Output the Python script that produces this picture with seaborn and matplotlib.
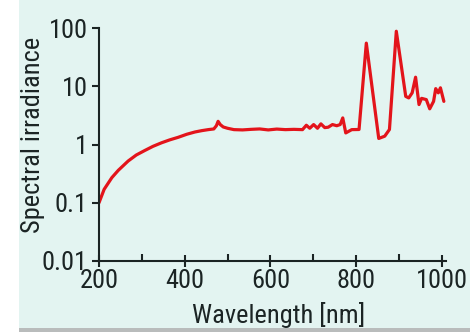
import matplotlib
matplotlib.use("Agg")
import matplotlib.pyplot as plt
import matplotlib.patches as mpatches
from matplotlib import font_manager
import numpy as np
import pandas as pd
import seaborn as sns

# values
wavelength = [200, 212, 230, 245, 268, 287, 307, 326, 346, 365, 385, 405, 424,
              440, 455, 468, 474, 478, 483, 490, 500, 515, 535, 555, 575, 595,
              615, 635, 655, 675, 684, 692, 701, 710, 718, 727, 735, 745, 755,
              763, 769, 776, 790, 807, 824, 853, 867, 878, 894, 916, 923, 931,
              939, 947, 953, 964, 972, 981, 986, 992, 997, 1005]
irradiance = [0.1, 0.17, 0.27, 0.36, 0.52, 0.66, 0.79, 0.93, 1.07, 1.2, 1.33, 1.5, 1.64,
              1.73, 1.8, 1.85, 2.1, 2.5, 2.2, 2.0, 1.9, 1.8, 1.78, 1.82, 1.85, 1.78,
              1.84, 1.8, 1.82, 1.8, 2.14, 1.9, 2.2, 1.9, 2.26, 1.95, 1.98, 2.2, 2.1,
              2.2, 2.86, 1.58, 1.8, 1.81, 55, 1.27, 1.39, 1.81, 88, 6.7, 6.3, 7.7,
              14.3, 4.85, 6.2, 5.9, 4.1, 5.5, 9.1, 7.7, 9.4, 5.5]
x_ticks = [200, 400, 600, 800, 1000]
y_ticks = [0.01, 0.1, 1, 10, 100]
y_ticklabels = ["0.01", "0.1", "1", "10", "100"]

df = pd.DataFrame({"wl": wavelength, "irr": irradiance})

sns.set_style("ticks")

# narrow font if there is one, else condensed DejaVu
names = {f.name for f in font_manager.fontManager.ttflist}
narrow = [n for n in ['Liberation Sans Narrow', 'Roboto Condensed', 'Open Sans Condensed',
                      'DejaVu Sans Condensed'] if n in names]
plt.rcParams['font.family'] = narrow + ['DejaVu Sans']
plt.rcParams['font.stretch'] = 'condensed'
fsize = 19 if narrow else 14

bg = '#e3f4f1'
ink = '#1b2424'

fig = plt.figure(figsize=(4.7, 3.32), dpi=100, facecolor='white')
# mint page background, white strip on the left, grey line at the bottom
fig.patches.append(mpatches.Rectangle((19 / 470, 4 / 332), 1, 1, transform=fig.transFigure,
                                      facecolor=bg, edgecolor='none', zorder=-2))
fig.patches.append(mpatches.Rectangle((19 / 470, 0), 1, 4 / 332, transform=fig.transFigure,
                                      facecolor='#b9bcbc', edgecolor='none', zorder=-2))

ax = fig.add_axes([99 / 470, 1 - 261 / 332, (446 - 99) / 470, (261 - 28) / 332])
ax.set_facecolor('none')

sns.lineplot(data=df, x="wl", y="irr", ax=ax, color='#e3141b', linewidth=2.3)

ax.set_yscale('log')
ax.set_xlim(200, 1010)
ax.set_ylim(0.01, 100)

ax.set_xticks(x_ticks)
ax.set_xticklabels([str(t) for t in x_ticks])
ax.set_xticks([300, 500, 700, 900], minor=True)
ax.set_yticks(y_ticks)
ax.set_yticklabels(y_ticklabels)
ax.yaxis.set_minor_locator(matplotlib.ticker.NullLocator())

ax.tick_params(axis='x', which='major', direction='inout', length=8, width=1.5,
               color=ink, labelsize=fsize, labelcolor=ink, pad=2)
ax.tick_params(axis='x', which='minor', direction='in', length=5, width=1.5, color=ink)
ax.tick_params(axis='y', which='major', direction='out', length=5, width=1.5,
               color=ink, labelsize=fsize, labelcolor=ink, pad=3)

for s in ['top', 'right']:
    ax.spines[s].set_visible(False)
for s in ['left', 'bottom']:
    ax.spines[s].set_color(ink)
    ax.spines[s].set_linewidth(1.5)

ax.set_xlabel('Wavelength [nm]', fontsize=fsize, color=ink)
ax.set_ylabel('Spectral irradiance', fontsize=fsize, color=ink)
ax.xaxis.set_label_coords(0.519, -0.175)
ax.yaxis.set_label_coords(-0.156, 0.54)

fig.savefig('out.png', dpi=100, facecolor=fig.get_facecolor())
